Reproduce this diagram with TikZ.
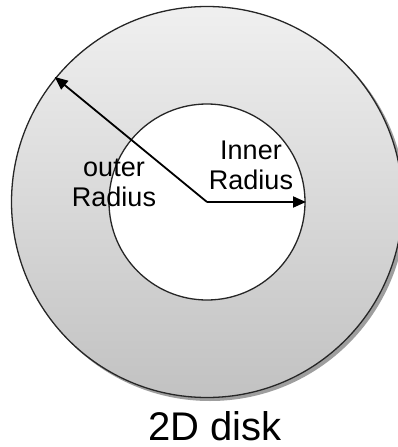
\documentclass[tikz,border=0pt]{standalone}
\usepackage{fontspec}
\setmainfont{Liberation Sans}
\usetikzlibrary{arrows.meta,calc}
\begin{document}
\begin{tikzpicture}[x=1pt,y=-1pt,
  rim/.style={draw=black!85,line width=1.3pt},
  radarrow/.style={line width=1.8pt,-{Triangle[length=13pt,width=11pt]}},
  lbl/.style={font=\fontsize{27}{30}\selectfont,align=center,inner sep=0pt}]
\useasboundingbox (0,0) rectangle (398,447);
\coordinate (c) at (207,202);
% shadow
\fill[black!38] ($(c)+(3,3)$) circle (196);
\shade[top color=black!6,bottom color=black!24,rim] (c) circle (195.5);
\fill[white,rim] (c) circle (98);
\node[lbl] (outer) at (114,183) {outer\\Radius};
\node[lbl] (inner) at (251,165) {Inner\\Radius};
\coordinate (otip) at ($(c)+(-140.6:197)$);
\coordinate (itip) at ($(c)+(0:99)$);
\draw[radarrow] (c) -- (otip);
\draw[radarrow] (c) -- (itip);
\node[font=\fontsize{40}{46}\selectfont,inner sep=0pt,anchor=base] (title) at (215,440) {2D disk};
\end{tikzpicture}
\end{document}
